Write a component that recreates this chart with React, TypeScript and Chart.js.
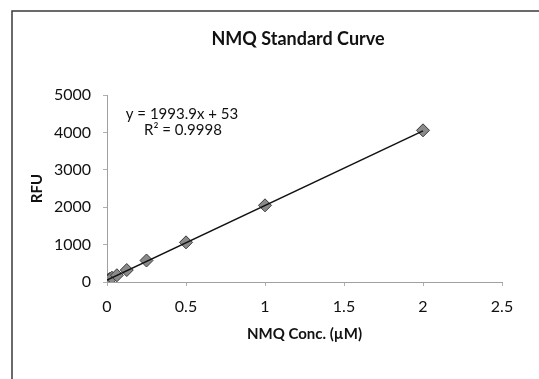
import React, { useEffect, useRef } from "react";
import { Chart, registerables } from "chart.js";

Chart.register(...registerables);

const concentrations = [0, 0.0156, 0.03125, 0.0625, 0.125, 0.25, 0.5, 1, 2];
const rfuValues = [45, 80, 115, 180, 320, 575, 1060, 2050, 4055];
const trendX = [0, 2];
const trendY = [53, 4041];
const xTicks = [0, 0.5, 1, 1.5, 2, 2.5];
const yTicks = [0, 1000, 2000, 3000, 4000, 5000];
const chartTitle = "NMQ Standard Curve";
const equationLines = ["y = 1993.9x + 53", "R² = 0.9998"];
const xTitle = "NMQ Conc. (µM)";
const yTitle = "RFU";

const FONT = "Lato, 'Open Sans', sans-serif";

const decorPlugin = {
  id: "decor",
  beforeDraw(chart: any) {
    const { ctx } = chart;
    ctx.save();
    ctx.fillStyle = "#ffffff";
    ctx.fillRect(0, 0, chart.width, chart.height);
    ctx.strokeStyle = "#3a3a3a";
    ctx.lineWidth = 1.5;
    ctx.strokeRect(12, 11, chart.width + 20, chart.height + 20);
    ctx.restore();
  },
  afterDraw(chart: any) {
    const { ctx } = chart;
    ctx.save();
    ctx.fillStyle = "#111111";
    ctx.textAlign = "center";
    ctx.textBaseline = "alphabetic";
    ctx.font = `bold 18px ${FONT}`;
    ctx.fillText(chartTitle, 298, 45);
    ctx.font = `15px ${FONT}`;
    ctx.fillText(equationLines[0], 182, 119);
    ctx.fillText(equationLines[1], 183, 135);
    ctx.restore();
  },
};

export default function App() {
  const ref = useRef<HTMLCanvasElement | null>(null);

  useEffect(() => {
    document.body.style.margin = "0";
    const canvas = ref.current;
    if (!canvas) return;
    const chart = new Chart(canvas, {
      type: "scatter",
      data: {
        datasets: [
          {
            label: "Trend",
            type: "line",
            data: trendX.map((x, i) => ({ x, y: trendY[i] })),
            borderColor: "#111111",
            borderWidth: 1.5,
            pointRadius: 0,
            fill: false,
            order: 0,
          } as any,
          {
            label: "RFU",
            data: concentrations.map((x, i) => ({ x, y: rfuValues[i] })),
            pointStyle: "rectRot",
            pointRadius: 6.5,
            backgroundColor: "#8a8a8a",
            borderColor: "#3a3a3a",
            borderWidth: 1,
            order: 1,
          },
        ],
      },
      options: {
        responsive: false,
        animation: false,
        devicePixelRatio: 1,
        layout: { padding: { left: 12, right: 37, top: 95, bottom: 27 } },
        plugins: {
          legend: { display: false },
          tooltip: { enabled: false },
          title: { display: false },
        },
        scales: {
          x: {
            type: "linear",
            min: 0,
            max: 2.5,
            afterBuildTicks: (s: any) => {
              s.ticks = xTicks.map((v) => ({ value: v }));
            },
            afterFit: (s: any) => {
              s.height = 70;
            },
            ticks: {
              color: "#111111",
              font: { family: FONT, size: 16 },
              padding: 11,
              maxRotation: 0,
              callback: (v: any) => String(v),
            },
            grid: {
              display: true,
              drawOnChartArea: false,
              drawTicks: true,
              tickLength: 4,
              color: "#b0b0b0",
            },
            border: { display: true, color: "#a0a0a0", dash: [1, 3] },
            title: {
              display: true,
              text: xTitle,
              color: "#111111",
              font: { family: FONT, size: 15, weight: "bold" },
              padding: { top: 0, bottom: 9 },
            },
          },
          y: {
            type: "linear",
            min: 0,
            max: 5000,
            afterBuildTicks: (s: any) => {
              s.ticks = yTicks.map((v) => ({ value: v }));
            },
            afterFit: (s: any) => {
              s.width = 95;
            },
            ticks: {
              color: "#111111",
              font: { family: FONT, size: 16 },
              padding: 12,
              callback: (v: any) => String(v),
            },
            grid: {
              display: true,
              drawOnChartArea: false,
              drawTicks: true,
              tickLength: 4,
              color: "#b0b0b0",
            },
            border: { display: true, color: "#a0a0a0", dash: [1, 3] },
            title: {
              display: true,
              text: yTitle,
              color: "#111111",
              font: { family: FONT, size: 15, weight: "bold" },
              padding: { top: 16, bottom: 0 },
            },
          },
        },
      },
      plugins: [decorPlugin],
    });
    return () => chart.destroy();
  }, []);

  return <canvas ref={ref} width={539} height={379} style={{ display: "block" }} />;
}
